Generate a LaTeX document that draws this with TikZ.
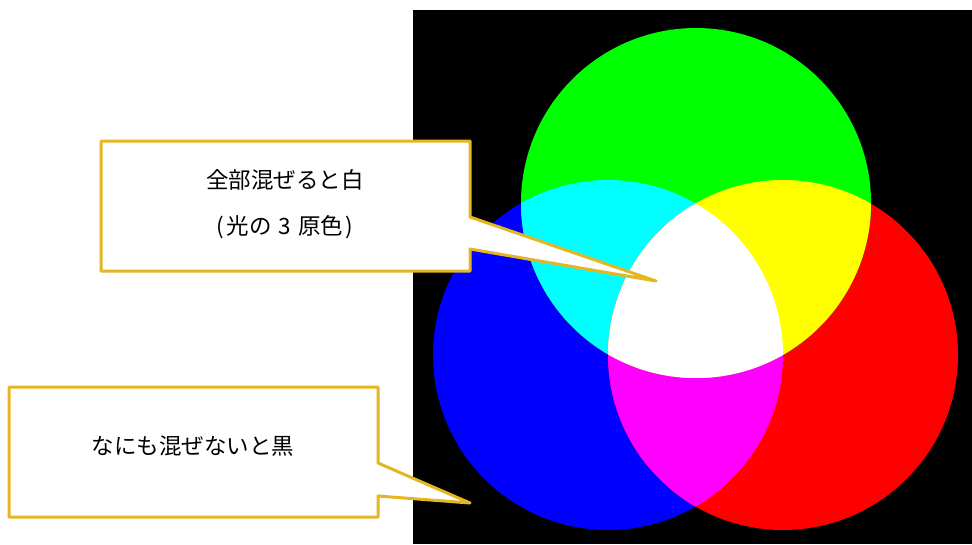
\documentclass[tikz,border=0pt]{standalone}
\usepackage{fontspec}
\setmainfont{Noto Sans CJK JP}
\definecolor{calloutc}{RGB}{228,182,36}
\definecolor{pR}{RGB}{255,0,0}
\definecolor{pG}{RGB}{0,255,0}
\definecolor{pB}{RGB}{0,0,255}
\definecolor{pC}{RGB}{0,255,255}
\definecolor{pM}{RGB}{255,0,255}
\definecolor{pY}{RGB}{255,255,0}
\definecolor{pW}{RGB}{255,255,255}
\begin{document}
\begin{tikzpicture}[x=1pt,y=-1pt,
  callbox/.style={draw=calloutc, line width=3pt, fill=white, line join=round},
  lbl/.style={font=\fontsize{22.5}{26}\selectfont, text=black, inner sep=0pt}]
\useasboundingbox (0,0) rectangle (972,544);
\fill[black] (413,10) rectangle (972,544);
% full circles
\coordinate (cB) at (608,355);
\coordinate (cR) at (783,355);
\coordinate (cG) at (696,203);
\fill[pB] (cB) circle[radius=175pt];
\fill[pR] (cR) circle[radius=175pt];
\fill[pG] (cG) circle[radius=175pt];
% pairwise mixes
\begin{scope}
  \clip (cB) circle[radius=175pt];
  \fill[pC] (cG) circle[radius=175pt];
  \fill[pM] (cR) circle[radius=175pt];
\end{scope}
\begin{scope}
  \clip (cG) circle[radius=175pt];
  \fill[pY] (cR) circle[radius=175pt];
\end{scope}
\begin{scope}
  \clip (cB) circle[radius=175pt];
  \clip (cG) circle[radius=175pt];
  \fill[pW] (cR) circle[radius=175pt];
\end{scope}
% callouts
\coordinate (tip1) at (656,281);
\coordinate (tip2) at (470,503);
\draw[callbox] (101,141) -- (470,141) -- (470,217) -- (tip1) -- (470,249) -- (470,271) -- (101,271) -- cycle;
\draw[callbox] (9,387) -- (378,387) -- (378,463) -- (tip2) -- (378,496) -- (378,517) -- (9,517) -- cycle;
\node[lbl] (t1) at (285,180) {全部混ぜると白};
\node[lbl] (t2) at (285,227) {(\hspace{0.1em}光の\hspace{0.32em}3\hspace{0.32em}原色\hspace{0.1em})};
\node[lbl] (t3) at (193,446) {なにも混ぜないと黒};
\end{tikzpicture}
\end{document}
